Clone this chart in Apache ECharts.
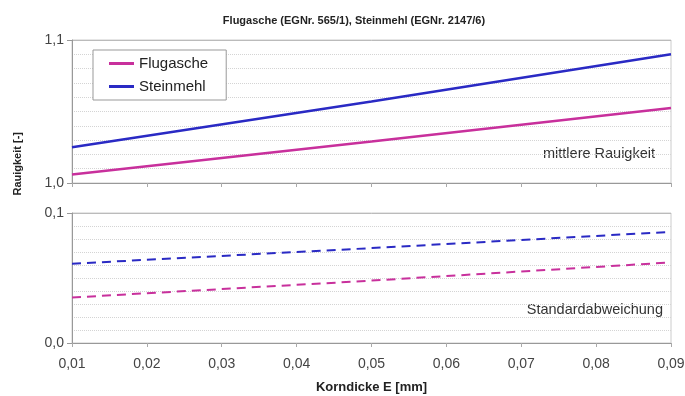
<!DOCTYPE html>
<html>
<head>
<meta charset="utf-8">
<script src="https://cdn.jsdelivr.net/npm/echarts@6/dist/echarts.min.js"></script>
<style>
    html, body { margin: 0; padding: 0; background: #fff; }
    #chart { width: 685px; height: 396px; }
</style>
</head>
<body>
<div id="chart"></div>
<script>
    // Korndicke E [mm]
    var korndicke = [0.01, 0.05, 0.09];

    // mittlere Rauigkeit
    var flugascheMittel = [1.006, 1.029, 1.0525];
    var steinmehlMittel = [1.025, 1.057, 1.090];

    // Standardabweichung
    var flugascheStd = [0.035, 0.048, 0.062];
    var steinmehlStd = [0.061, 0.073, 0.0855];

    var xTicks = { min: 0.01, max: 0.09, step: 0.01 };

    var FONT = 'Liberation Sans, Arial, sans-serif';
    var MAGENTA = '#c8309c';
    var BLUE = '#2a2ac4';

    function pairs(xs, ys) {
        return xs.map(function (x, i) { return [x, ys[i]]; });
    }

    function comma(v, digits) {
        return v.toFixed(digits).replace('.', ',');
    }

    function yAxis(gridIndex, min, max) {
        return {
            type: 'value',
            gridIndex: gridIndex,
            min: min,
            max: max,
            interval: 0.1,
            axisLine: { show: true, lineStyle: { color: '#999' } },
            axisTick: { show: true, length: 5, lineStyle: { color: '#999' } },
            axisLabel: {
                color: '#444',
                fontSize: 14,
                fontFamily: FONT,
                margin: 8,
                formatter: function (v) { return comma(v, 1); }
            },
            splitLine: { show: true, lineStyle: { color: '#bbb', width: 1 } },
            minorTick: { show: false, splitNumber: 10 },
            minorSplitLine: { show: true, lineStyle: { color: '#d4d4d4', type: 'dotted', width: 1 } }
        };
    }

    function xAxis(gridIndex, withLabels) {
        return {
            type: 'value',
            gridIndex: gridIndex,
            min: xTicks.min,
            max: xTicks.max,
            interval: xTicks.step,
            axisLine: { show: true, onZero: false, lineStyle: { color: '#999' } },
            axisTick: { show: true, length: 4, lineStyle: { color: '#aaa' } },
            splitLine: { show: false },
            axisLabel: {
                show: withLabels,
                color: '#444',
                fontSize: 14,
                fontFamily: FONT,
                margin: 14,
                formatter: function (v) { return comma(v, 2); }
            },
            name: withLabels ? 'Korndicke E [mm]' : '',
            nameLocation: 'middle',
            nameGap: 38,
            nameTextStyle: { color: '#222', fontSize: 13, fontWeight: 'bold', fontFamily: FONT }
        };
    }

    var option = {
        backgroundColor: '#fff',
        animation: false,
        title: {
            text: 'Flugasche (EGNr. 565/1), Steinmehl (EGNr. 2147/6)',
            left: 349,
            textAlign: 'center',
            top: 10,
            textStyle: { fontSize: 11, fontWeight: 'bold', color: '#222', fontFamily: FONT }
        },
        legend: {
            data: ['Flugasche', 'Steinmehl'],
            orient: 'vertical',
            left: 93,
            top: 50,
            padding: [6, 18, 6, 16],
            itemGap: 8,
            itemWidth: 25,
            itemHeight: 3,
            icon: 'rect',
            backgroundColor: '#fff',
            borderColor: '#999',
            borderWidth: 1,
            textStyle: { fontSize: 15, color: '#222', fontFamily: FONT }
        },
        grid: [
            { left: 72, right: 14, top: 40, height: 143, show: true, borderColor: '#ccc', borderWidth: 1, outerBoundsMode: 'none' },
            { left: 72, right: 14, top: 213, height: 130, show: true, borderColor: '#ccc', borderWidth: 1, outerBoundsMode: 'none' }
        ],
        xAxis: [xAxis(0, false), xAxis(1, true)],
        yAxis: [yAxis(0, 1.0, 1.1), yAxis(1, 0.0, 0.1)],
        graphic: [
            {
                type: 'text', left: 12, top: 132, rotation: Math.PI / 2,
                style: { text: 'Rauigkeit [-]', fill: '#222', font: 'bold 11px ' + FONT }
            },
            {
                type: 'text', right: 30, top: 146,
                style: { text: 'mittlere Rauigkeit', fill: '#333', font: '14.5px ' + FONT }
            },
            {
                type: 'text', right: 22, top: 302,
                style: { text: 'Standardabweichung', fill: '#333', font: '14.5px ' + FONT }
            }
        ],
        series: [
            {
                name: 'Flugasche', type: 'line', xAxisIndex: 0, yAxisIndex: 0,
                data: pairs(korndicke, flugascheMittel),
                symbol: 'none', color: MAGENTA,
                lineStyle: { width: 2.5, color: MAGENTA }
            },
            {
                name: 'Steinmehl', type: 'line', xAxisIndex: 0, yAxisIndex: 0,
                data: pairs(korndicke, steinmehlMittel),
                symbol: 'none', color: BLUE,
                lineStyle: { width: 2.5, color: BLUE }
            },
            {
                name: 'Flugasche', type: 'line', xAxisIndex: 1, yAxisIndex: 1,
                data: pairs(korndicke, flugascheStd),
                symbol: 'none', color: MAGENTA,
                lineStyle: { width: 2, color: MAGENTA, type: [9, 6] }
            },
            {
                name: 'Steinmehl', type: 'line', xAxisIndex: 1, yAxisIndex: 1,
                data: pairs(korndicke, steinmehlStd),
                symbol: 'none', color: BLUE,
                lineStyle: { width: 2, color: BLUE, type: [9, 6] }
            }
        ]
    };

    var chart = echarts.init(document.getElementById('chart'));
    chart.setOption(option);
</script>
</body>
</html>
